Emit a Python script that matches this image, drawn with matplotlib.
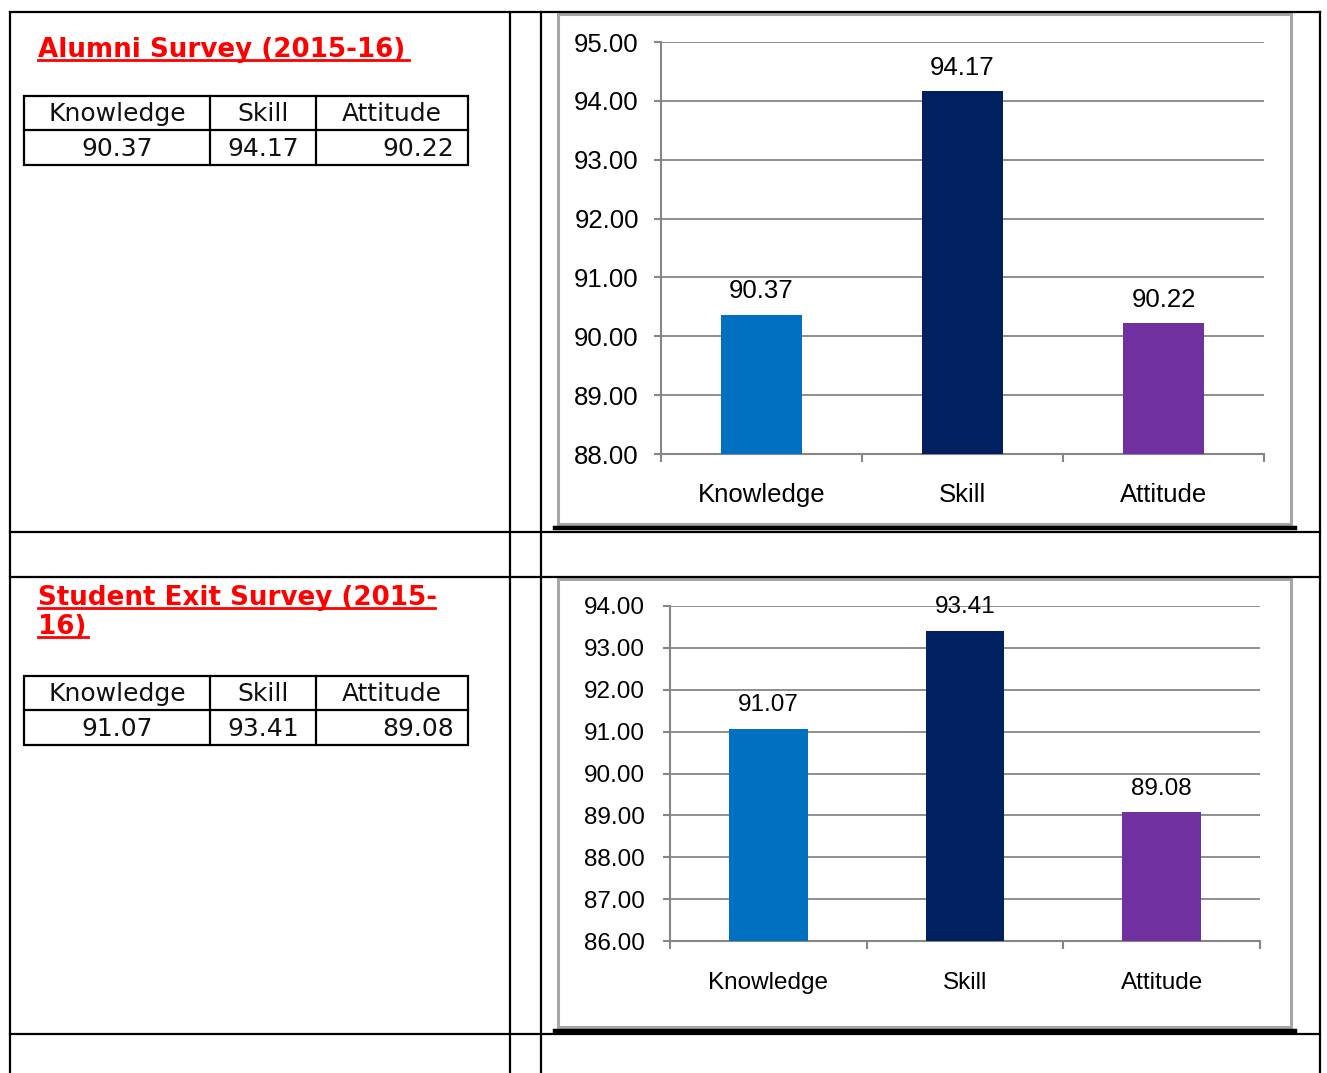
import matplotlib
matplotlib.use("Agg")
import matplotlib.pyplot as plt
from matplotlib.patches import Rectangle

categories = ["Knowledge", "Skill", "Attitude"]
alumni_values = [90.37, 94.17, 90.22]
exit_values = [91.07, 93.41, 89.08]
alumni_ticks = [88, 89, 90, 91, 92, 93, 94, 95]
exit_ticks = [86, 87, 88, 89, 90, 91, 92, 93, 94]
bar_colors = ["#0070C0", "#002060", "#7030A0"]

W, H = 1327, 1073
fig = plt.figure(figsize=(W / 100, H / 100), dpi=100)

# page layer in pixel coordinates
page = fig.add_axes([0, 0, 1, 1])
page.set_xlim(0, W)
page.set_ylim(H, 0)
page.axis("off")

lw = 1.6
for x in [10, 510, 541, 1320]:
    page.plot([x, x], [12, H], color="black", lw=lw)
for y in [12, 532, 577, 1034]:
    page.plot([10, 1320], [y, y], color="black", lw=lw)

# chart frames
for top, bot in [(14, 524), (579, 1027)]:
    page.add_patch(Rectangle((558, top), 733, bot - top, fill=False,
                             edgecolor="#a6a6a6", lw=2.2))
    page.plot([555, 1295], [bot + 4, bot + 4], color="black", lw=3.2)

# titles
title_kw = dict(color="#ff0000", fontsize=18.8, fontweight="bold",
                family="DejaVu Sans", va="baseline", ha="left")
page.text(38, 57, "Alumni Survey (2015-16)", **title_kw)
page.plot([38, 409], [60, 60], color="#ff0000", lw=2)
page.text(38, 605, "Student Exit Survey (2015-", **title_kw)
page.plot([38, 435], [608, 608], color="#ff0000", lw=2)
page.text(38, 634, "16)", **title_kw)
page.plot([38, 88], [637, 637], color="#ff0000", lw=2)


def small_table(top, values):
    bot = top + 69
    mid = top + 34
    page.add_patch(Rectangle((24, top), 444, 69, fill=False,
                             edgecolor="black", lw=1.6))
    page.plot([24, 468], [mid, mid], color="black", lw=1.6)
    for x in [210, 316]:
        page.plot([x, x], [top, bot], color="black", lw=1.6)
    kw = dict(fontsize=18, family="DejaVu Sans", va="center", color="#111111")
    centers = [117, 263, 392]
    for c, name in zip(centers, categories):
        page.text(c, (top + mid) / 2 + 1, name, ha="center", **kw)
    page.text(117, (mid + bot) / 2 + 1, f"{values[0]:.2f}", ha="center", **kw)
    page.text(263, (mid + bot) / 2 + 1, f"{values[1]:.2f}", ha="center", **kw)
    page.text(454, (mid + bot) / 2 + 1, f"{values[2]:.2f}", ha="right", **kw)


small_table(96, alumni_values)
small_table(676, exit_values)


def chart(rect_px, values, ticks, fsize, ypad, xpad, lpad):
    left, right, top, bot = rect_px
    ax = fig.add_axes([left / W, 1 - bot / H, (right - left) / W, (bot - top) / H])
    x = range(len(categories))
    bars = ax.bar(x, values, width=0.4, color=bar_colors, zorder=3)
    ax.set_ylim(ticks[0], ticks[-1])
    ax.set_xlim(-0.5, len(categories) - 0.5)
    ax.set_yticks(ticks)
    ax.set_yticklabels([f"{t:.2f}" for t in ticks], family="Liberation Sans",
                       fontsize=fsize)
    ax.set_xticks([-0.5, 0.5, 1.5, 2.5])
    ax.set_xticklabels([])
    ax.set_xticks(list(x), minor=True)
    ax.set_xticklabels(categories, minor=True, family="Liberation Sans",
                       fontsize=fsize)
    ax.tick_params(axis="x", which="major", length=6, width=1.5, color="#868686")
    ax.tick_params(axis="x", which="minor", length=0, pad=xpad)
    ax.tick_params(axis="y", length=5, width=1.5, color="#868686", pad=ypad)
    ax.grid(axis="y", color="#868686", lw=1.3, zorder=0)
    for s in ["top", "right"]:
        ax.spines[s].set_visible(False)
    for s in ["left", "bottom"]:
        ax.spines[s].set_color("#868686")
        ax.spines[s].set_linewidth(1.5)
    ax.bar_label(bars, labels=[f"{v:.2f}" for v in values], padding=lpad,
                 family="Liberation Sans", fontsize=fsize)
    ax.patch.set_alpha(0)
    return ax


chart((661, 1264, 42, 454), alumni_values, alumni_ticks, 18.5, 11, 21, 8)
chart((670, 1260, 606, 941), exit_values, exit_ticks, 17.5, 13, 22, 9)

fig.savefig("out.png", dpi=100)
